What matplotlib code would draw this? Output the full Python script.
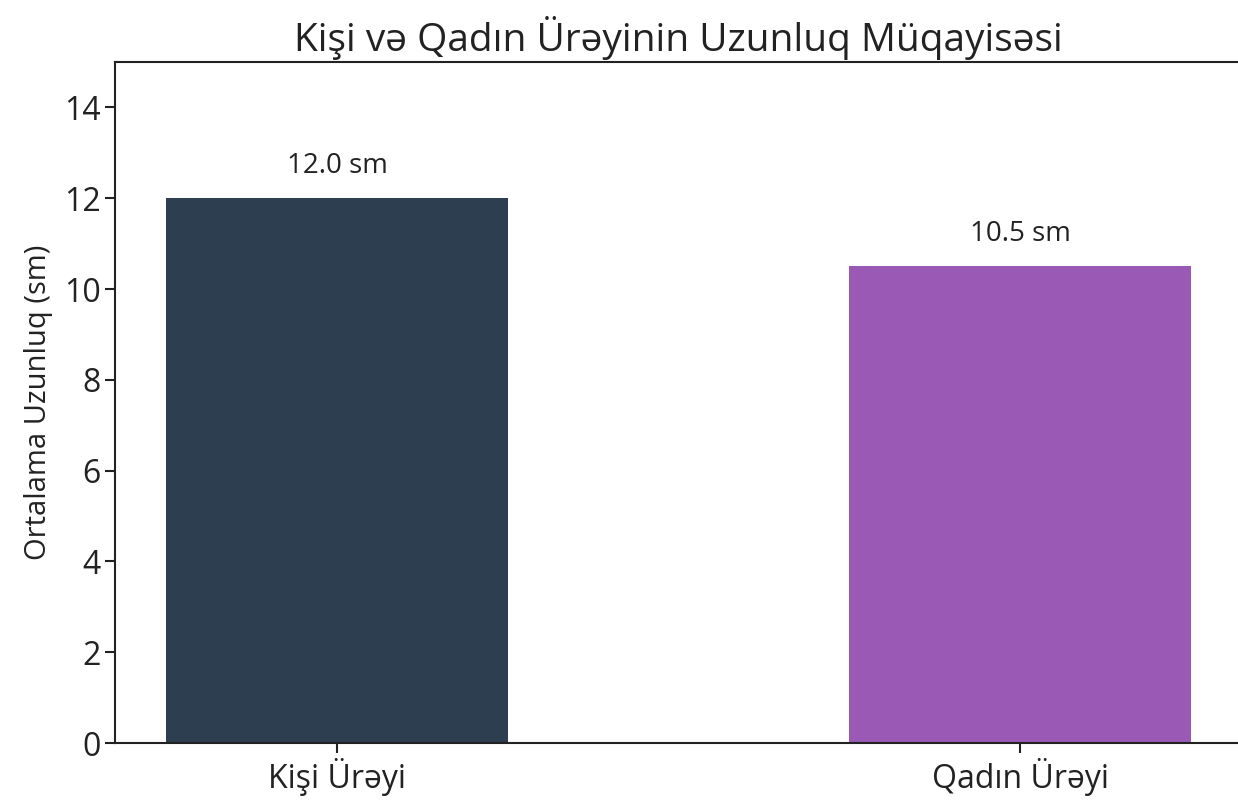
import matplotlib
matplotlib.use("Agg")
import matplotlib.pyplot as plt

categories = ["Kişi Ürəyi", "Qadın Ürəyi"]
lengths = [12.0, 10.5]
colors = ["#2c3e50", "#9b59b6"]
yticks = [0, 2, 4, 6, 8, 10, 12, 14]

plt.rcParams['font.family'] = ['Open Sans', 'DejaVu Sans']

fig = plt.figure(figsize=(12.38, 8.10), dpi=100)
ax = fig.add_axes([115/1238, 67/810, 1127/1238, 681/810])

bars = ax.bar(categories, lengths, width=0.5, color=colors)
for b, v in zip(bars, lengths):
    ax.text(b.get_x() + b.get_width()/2, v + 0.4, f"{v:.1f} sm",
            ha='center', va='bottom', fontsize=20, color='#222222')

ax.set_ylim(0, 15)
ax.set_yticks(yticks)
ax.tick_params(axis='both', labelsize=23, length=7, width=1.5, colors='#222222')
ax.set_ylabel("Ortalama Uzunluq (sm)", fontsize=21, color='#222222', labelpad=8)
ax.set_title("Kişi və Qadın Ürəyinin Uzunluq Müqayisəsi", fontsize=28, color='#222222', pad=8)
for s in ax.spines.values():
    s.set_linewidth(1.5)
    s.set_color('#222222')
ax.spines['right'].set_visible(False)

fig.savefig("out.png", dpi=100)
